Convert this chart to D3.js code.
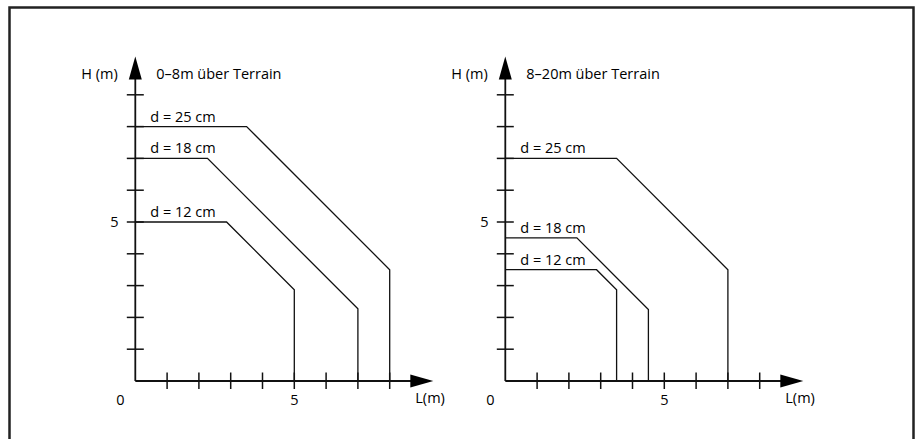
<!DOCTYPE html>
<html>
<head>
<meta charset="utf-8">
<script src="https://cdn.jsdelivr.net/npm/d3@7"></script>
<style>
  html, body { margin: 0; padding: 0; background: #fff; }
  svg text { font-family: "Open Sans", "Noto Sans", sans-serif; fill: #000; font-weight: 500; }
</style>
</head>
<body>
<svg id="chart" width="919" height="439"></svg>
<script>
// Panel titles
const panelTitles = ["0\u20138m über Terrain", "8\u201320m über Terrain"];

// Pipe diameters (curve labels)
const diameters = ["d = 12 cm", "d = 18 cm", "d = 25 cm"];

// Profile corner points [L, H] for each diameter, left panel (0–8 m)
const lowSeries = [
  [[0, 5], [2.87, 5], [5, 2.87], [5, 0]],
  [[0, 7], [2.27, 7], [7, 2.27], [7, 0]],
  [[0, 8], [3.5, 8], [8, 3.5], [8, 0]]
];

// Profile corner points [L, H] for each diameter, right panel (8–20 m)
const highSeries = [
  [[0, 3.5], [2.87, 3.5], [3.5, 2.87], [3.5, 0]],
  [[0, 4.5], [2.25, 4.5], [4.5, 2.25], [4.5, 0]],
  [[0, 7], [3.5, 7], [7, 3.5], [7, 0]]
];

// Axis ticks and labelled values
const xTicks = [1, 2, 3, 4, 5, 6, 7, 8];
const yTicks = [1, 2, 3, 4, 5, 6, 7, 8, 9];
const xLabels = [0, 5];
const yLabels = [5];

const svg = d3.select("#chart");

// Frame
svg.append("path")
  .attr("d", "M9.5,445 V7.5 H913.5 V445")
  .attr("fill", "none")
  .attr("stroke", "#222")
  .attr("stroke-width", 2.5);

const unit = 31.8;
const originY = 381;

function panel(originX, title, series) {
  const x = d3.scaleLinear().domain([0, 1]).range([originX, originX + unit]);
  const y = d3.scaleLinear().domain([0, 1]).range([originY, originY - unit]);
  const g = svg.append("g");

  // Curves
  const line = d3.line().x(d => x(d[0])).y(d => y(d[1]));
  series.forEach((pts, i) => {
    g.append("path")
      .attr("d", line(pts))
      .attr("fill", "none")
      .attr("stroke", "#111")
      .attr("stroke-width", 1.3);
    g.append("text")
      .attr("x", x(0) + 15)
      .attr("y", y(pts[0][1]) - 5)
      .attr("font-size", 14.5)
      .text(diameters[i]);
  });

  // Axes lines
  const xEnd = x(0) + 298;
  const yEnd = y(0) - 324.5;
  g.append("line")
    .attr("x1", x(0)).attr("y1", y(0)).attr("x2", xEnd - 20).attr("y2", y(0))
    .attr("stroke", "#111").attr("stroke-width", 1.8);
  g.append("line")
    .attr("x1", x(0)).attr("y1", y(0)).attr("x2", x(0)).attr("y2", yEnd + 20)
    .attr("stroke", "#111").attr("stroke-width", 1.8);

  // Arrow heads
  g.append("path")
    .attr("d", `M${xEnd - 23},${y(0) - 6.5} L${xEnd},${y(0)} L${xEnd - 23},${y(0) + 6.5} Z`)
    .attr("fill", "#000");
  g.append("path")
    .attr("d", `M${x(0) - 6.5},${yEnd + 23} L${x(0)},${yEnd} L${x(0) + 6.5},${yEnd + 23} Z`)
    .attr("fill", "#000");

  // Tick marks crossing the axes
  g.selectAll(".xt").data(xTicks).join("line")
    .attr("x1", d => x(d)).attr("x2", d => x(d))
    .attr("y1", y(0) - 8.5).attr("y2", y(0) + 8)
    .attr("stroke", "#111").attr("stroke-width", 1.5);
  g.selectAll(".yt").data(yTicks).join("line")
    .attr("y1", d => y(d)).attr("y2", d => y(d))
    .attr("x1", x(0) - 8.5).attr("x2", x(0) + 8.5)
    .attr("stroke", "#111").attr("stroke-width", 1.5);

  // Tick labels
  g.selectAll(".xl").data(xLabels).join("text")
    .attr("x", d => d === 0 ? x(0) - 15 : x(d))
    .attr("y", y(0) + 24)
    .attr("text-anchor", "middle")
    .attr("font-size", 14.5)
    .text(d => d);
  g.selectAll(".yl").data(yLabels).join("text")
    .attr("x", x(0) - 21)
    .attr("y", d => y(d) + 5)
    .attr("text-anchor", "middle")
    .attr("font-size", 14.5)
    .text(d => d);

  // Axis titles
  g.append("text")
    .attr("x", xEnd - 18).attr("y", y(0) + 22)
    .attr("font-size", 14.5)
    .text("L(m)");
  g.append("text")
    .attr("x", x(0) - 54).attr("y", 79)
    .attr("font-size", 14.5)
    .text("H (m)");
  g.append("text")
    .attr("x", x(0) + 21).attr("y", 79)
    .attr("font-size", 14.5)
    .text(title);
}

panel(135.3, panelTitles[0], lowSeries);
panel(505.3, panelTitles[1], highSeries);
</script>
</body>
</html>
